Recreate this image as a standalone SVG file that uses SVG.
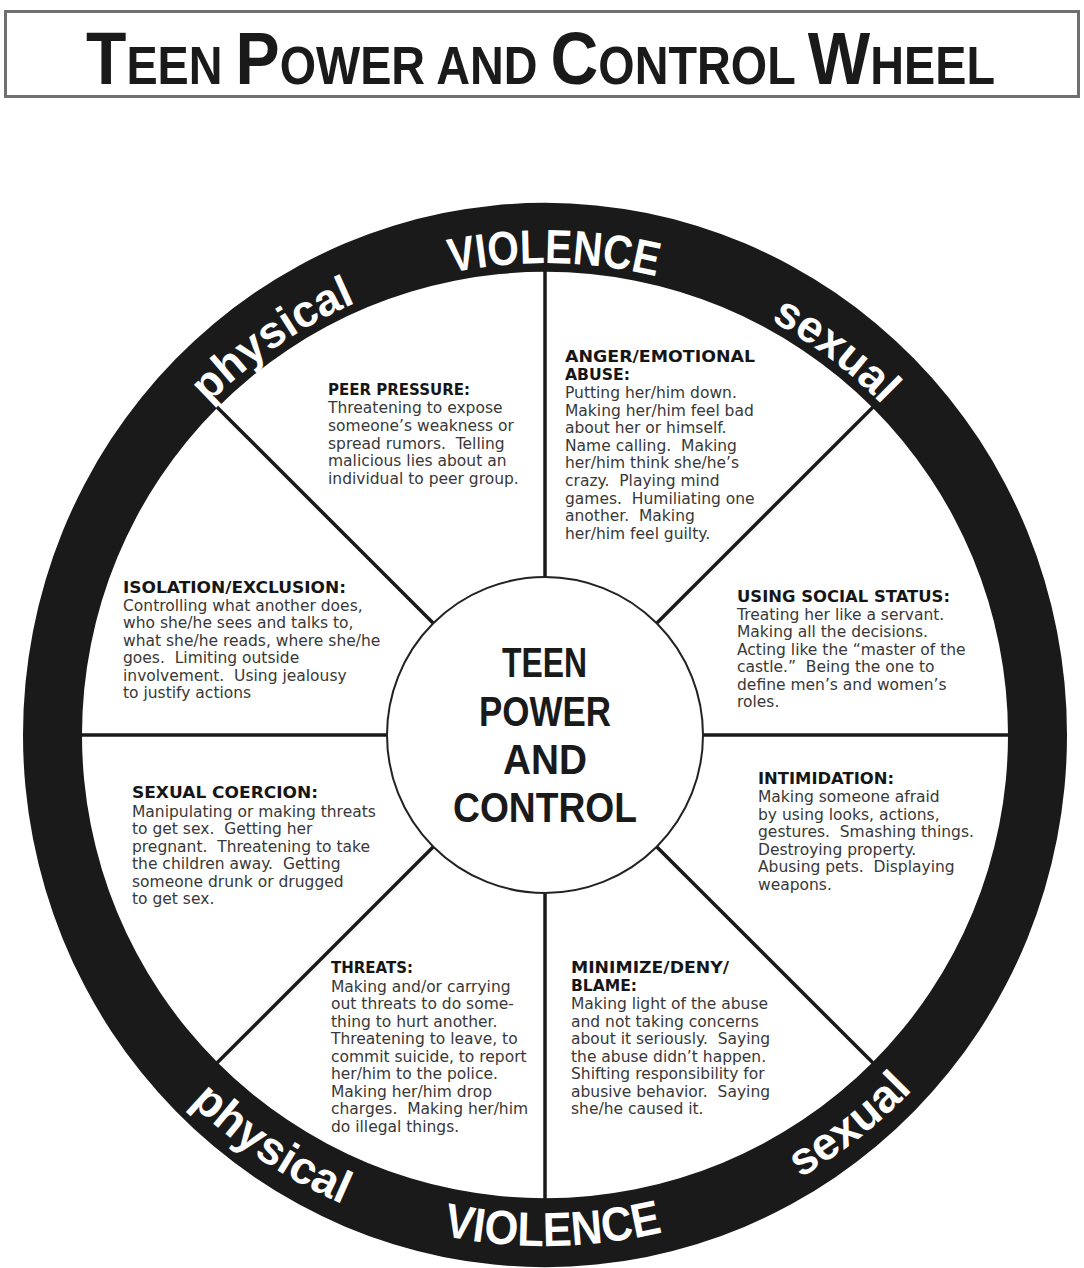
<svg xmlns="http://www.w3.org/2000/svg" width="1084" height="1268" viewBox="0 0 1084 1268">
<defs>
<style>
.hd{font-family:"DejaVu Sans",sans-serif;font-weight:bold;font-size:16px;fill:#161616}
.bd{font-family:"DejaVu Sans",sans-serif;font-size:15.5px;fill:#383838;white-space:pre}
.ring{font-family:"Liberation Sans",Arial,sans-serif;font-weight:bold;fill:#ffffff}
.ctr{font-family:"Liberation Sans",Arial,sans-serif;font-weight:bold;font-size:42px;fill:#1a1a1a}
.ttl{font-family:"Liberation Sans",Arial,sans-serif;font-weight:bold;fill:#1a1a1a;white-space:pre}
.spoke{stroke:#1a1a1a;stroke-width:3.5;fill:none}
</style>
<path id="topArc" d="M 73 735 A 472 472 0 0 1 1017 735"/>
<path id="botArc" d="M 34 735 A 511 511 0 0 0 1056 735"/>
</defs>
<rect x="0" y="0" width="1084" height="1268" fill="#ffffff"/>

<g id="title">
<rect x="5.5" y="11.5" width="1073" height="85" fill="#ffffff" stroke="#707070" stroke-width="3"/>
<text class="ttl" transform="translate(86 84) scale(0.882 1)" x="0" y="0"><tspan font-size="75">T</tspan><tspan font-size="53">EEN </tspan><tspan font-size="75">P</tspan><tspan font-size="53">OWER AND </tspan><tspan font-size="75">C</tspan><tspan font-size="53">ONTROL </tspan><tspan font-size="75">W</tspan><tspan font-size="53">HEEL</tspan></text>
</g>

<g id="wheel-ring">
<path d="M 23 735 A 522 532 0 1 0 1067 735 A 522 532 0 1 0 23 735 Z M 82 735 A 463 463 0 1 1 1008 735 A 463 463 0 1 1 82 735 Z" fill="#1a1a1a" fill-rule="evenodd"/>
</g>

<g id="ring-labels">
<text class="ring" font-size="48" text-anchor="middle"><textPath href="#topArc" startOffset="50.6%" textLength="207" lengthAdjust="spacingAndGlyphs">VIOLENCE</textPath></text>
<text class="ring" font-size="45" text-anchor="middle"><textPath href="#topArc" startOffset="30.8%">physical</textPath></text>
<text class="ring" font-size="45" text-anchor="middle"><textPath href="#topArc" startOffset="70.6%">sexual</textPath></text>
<text class="ring" font-size="48" text-anchor="middle"><textPath href="#botArc" startOffset="50.5%" textLength="222" lengthAdjust="spacingAndGlyphs">VIOLENCE</textPath></text>
<text class="ring" font-size="46" text-anchor="middle"><textPath href="#botArc" startOffset="31.3%">physical</textPath></text>
<text class="ring" font-size="46" text-anchor="middle"><textPath href="#botArc" startOffset="71.1%">sexual</textPath></text>
</g>

<g id="connectors">
<line class="spoke" x1="545" y1="577" x2="545" y2="271"/>
<line class="spoke" x1="545" y1="893" x2="545" y2="1199"/>
<line class="spoke" x1="387" y1="735" x2="81" y2="735"/>
<line class="spoke" x1="703" y1="735" x2="1009" y2="735"/>
<line class="spoke" x1="433.3" y1="623.3" x2="216.9" y2="406.9"/>
<line class="spoke" x1="656.7" y1="623.3" x2="873.1" y2="406.9"/>
<line class="spoke" x1="433.3" y1="846.7" x2="216.9" y2="1063.1"/>
<line class="spoke" x1="656.7" y1="846.7" x2="873.1" y2="1063.1"/>
</g>

<g id="center">
<circle cx="545" cy="735" r="158" fill="#ffffff" stroke="#222222" stroke-width="2"/>
<text class="ctr" x="502" y="677" textLength="85" lengthAdjust="spacingAndGlyphs">TEEN</text>
<text class="ctr" x="479" y="726" textLength="132" lengthAdjust="spacingAndGlyphs">POWER</text>
<text class="ctr" x="503" y="774" textLength="84" lengthAdjust="spacingAndGlyphs">AND</text>
<text class="ctr" x="453" y="822" textLength="184" lengthAdjust="spacingAndGlyphs">CONTROL</text>
</g>

<g id="peer-pressure">
<text class="hd" x="328" y="395" textLength="142" lengthAdjust="spacingAndGlyphs">PEER PRESSURE:</text>
<text class="bd"><tspan x="328" y="413">Threatening to expose</tspan><tspan x="328" y="430.8">someone’s weakness or</tspan><tspan x="328" y="448.6">spread rumors.  Telling</tspan><tspan x="328" y="466.4">malicious lies about an</tspan><tspan x="328" y="484.2">individual to peer group.</tspan></text>
</g>

<g id="anger-emotional-abuse">
<text class="hd" x="565" y="362" textLength="190" lengthAdjust="spacingAndGlyphs">ANGER/EMOTIONAL</text>
<text class="hd" x="565" y="380" textLength="65" lengthAdjust="spacingAndGlyphs">ABUSE:</text>
<text class="bd"><tspan x="565" y="398">Putting her/him down.</tspan><tspan x="565" y="415.6">Making her/him feel bad</tspan><tspan x="565" y="433.2">about her or himself.</tspan><tspan x="565" y="450.8">Name calling.  Making</tspan><tspan x="565" y="468.4">her/him think she/he’s</tspan><tspan x="565" y="486">crazy.  Playing mind</tspan><tspan x="565" y="503.6">games.  Humiliating one</tspan><tspan x="565" y="521.2">another.  Making</tspan><tspan x="565" y="538.8">her/him feel guilty.</tspan></text>
</g>

<g id="isolation-exclusion">
<text class="hd" x="123" y="593" textLength="223" lengthAdjust="spacingAndGlyphs">ISOLATION/EXCLUSION:</text>
<text class="bd"><tspan x="123" y="610.5">Controlling what another does,</tspan><tspan x="123" y="628">who she/he sees and talks to,</tspan><tspan x="123" y="645.5">what she/he reads, where she/he</tspan><tspan x="123" y="663">goes.  Limiting outside</tspan><tspan x="123" y="680.5">involvement.  Using jealousy</tspan><tspan x="123" y="698">to justify actions</tspan></text>
</g>

<g id="using-social-status">
<text class="hd" x="737" y="602" textLength="213" lengthAdjust="spacingAndGlyphs">USING SOCIAL STATUS:</text>
<text class="bd"><tspan x="737" y="620">Treating her like a servant.</tspan><tspan x="737" y="637.4">Making all the decisions.</tspan><tspan x="737" y="654.8">Acting like the “master of the</tspan><tspan x="737" y="672.2">castle.”  Being the one to</tspan><tspan x="737" y="689.6">define men’s and women’s</tspan><tspan x="737" y="707">roles.</tspan></text>
</g>

<g id="sexual-coercion">
<text class="hd" x="132" y="798" textLength="186" lengthAdjust="spacingAndGlyphs">SEXUAL COERCION:</text>
<text class="bd"><tspan x="132" y="816.5">Manipulating or making threats</tspan><tspan x="132" y="834">to get sex.  Getting her</tspan><tspan x="132" y="851.5">pregnant.  Threatening to take</tspan><tspan x="132" y="869">the children away.  Getting</tspan><tspan x="132" y="886.5">someone drunk or drugged</tspan><tspan x="132" y="904">to get sex.</tspan></text>
</g>

<g id="intimidation">
<text class="hd" x="758" y="784" textLength="136" lengthAdjust="spacingAndGlyphs">INTIMIDATION:</text>
<text class="bd"><tspan x="758" y="802">Making someone afraid</tspan><tspan x="758" y="819.5">by using looks, actions,</tspan><tspan x="758" y="837">gestures.  Smashing things.</tspan><tspan x="758" y="854.5">Destroying property.</tspan><tspan x="758" y="872">Abusing pets.  Displaying</tspan><tspan x="758" y="889.5">weapons.</tspan></text>
</g>

<g id="threats">
<text class="hd" x="331" y="973" textLength="82" lengthAdjust="spacingAndGlyphs">THREATS:</text>
<text class="bd"><tspan x="331" y="991.5">Making and/or carrying</tspan><tspan x="331" y="1009">out threats to do some-</tspan><tspan x="331" y="1026.5">thing to hurt another.</tspan><tspan x="331" y="1044">Threatening to leave, to</tspan><tspan x="331" y="1061.5">commit suicide, to report</tspan><tspan x="331" y="1079">her/him to the police.</tspan><tspan x="331" y="1096.5">Making her/him drop</tspan><tspan x="331" y="1114">charges.  Making her/him</tspan><tspan x="331" y="1131.5">do illegal things.</tspan></text>
</g>

<g id="minimize-deny-blame">
<text class="hd" x="571" y="973" textLength="158" lengthAdjust="spacingAndGlyphs">MINIMIZE/DENY/</text>
<text class="hd" x="571" y="990.5" textLength="66" lengthAdjust="spacingAndGlyphs">BLAME:</text>
<text class="bd"><tspan x="571" y="1009">Making light of the abuse</tspan><tspan x="571" y="1026.5">and not taking concerns</tspan><tspan x="571" y="1044">about it seriously.  Saying</tspan><tspan x="571" y="1061.5">the abuse didn’t happen.</tspan><tspan x="571" y="1079">Shifting responsibility for</tspan><tspan x="571" y="1096.5">abusive behavior.  Saying</tspan><tspan x="571" y="1114">she/he caused it.</tspan></text>
</g>
</svg>
